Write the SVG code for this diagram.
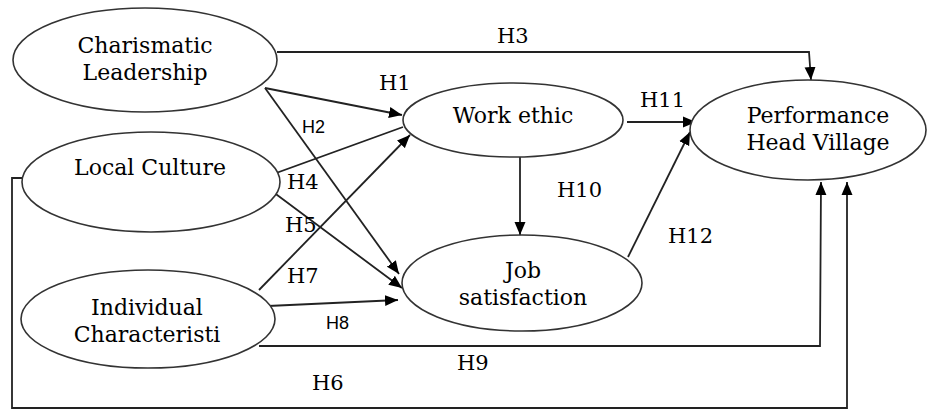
<svg xmlns="http://www.w3.org/2000/svg" width="927" height="410" viewBox="0 0 927 410">
<style>
.node{fill:#fff;stroke:#333;stroke-width:1.6}
.t{font-family:'DejaVu Serif','Liberation Serif',serif;font-size:22px;fill:#000;text-anchor:middle}
.lb{font-family:'DejaVu Serif','Liberation Serif',serif;font-size:21px;fill:#000}
.ls{font-family:'Liberation Sans',Arial,sans-serif;font-size:18px;fill:#000}
.ca{fill:none;stroke:#222;stroke-width:1.8;marker-end:url(#ah)}
</style>
<defs>
<marker id="ah" markerUnits="userSpaceOnUse" markerWidth="14" markerHeight="12" refX="13" refY="6" orient="auto">
<path d="M0,0.5 L13,6 L0,11.5 z" fill="#000"/>
</marker>
</defs>
<rect width="927" height="410" fill="#fff"/>
<g id="connectors">
<polyline class="ca" points="277,52 809,52 811,80"/>
<line class="ca" x1="265" y1="88" x2="402" y2="115"/>
<line class="ca" x1="265" y1="88" x2="399" y2="274"/>
<polyline class="ca" points="403,127 257,180 402,288"/>
<line class="ca" x1="259" y1="290" x2="410" y2="135"/>
<line class="ca" x1="268" y1="306" x2="398" y2="300"/>
<polyline class="ca" points="259,346 820,346 821,182"/>
<polyline class="ca" points="22,178 12,178 12,408 847,408 847,182"/>
<line class="ca" x1="520" y1="157" x2="520" y2="235"/>
<line class="ca" x1="627" y1="122" x2="696" y2="122"/>
<line class="ca" x1="628" y1="257" x2="690" y2="132"/>
</g>
<g id="charismatic">
<ellipse class="node" cx="145" cy="60" rx="132" ry="52"/>
<text class="t" x="145" y="53">Charismatic</text>
<text class="t" x="145" y="80">Leadership</text>
</g>
<g id="local-culture">
<ellipse class="node" cx="151" cy="182" rx="129" ry="50"/>
<text class="t" x="150" y="175">Local Culture</text>
</g>
<g id="individual">
<ellipse class="node" cx="148" cy="319" rx="127" ry="49"/>
<text class="t" x="147" y="315">Individual</text>
<text class="t" x="147" y="342">Characteristi</text>
</g>
<g id="work-ethic">
<ellipse class="node" cx="513" cy="120" rx="110" ry="37"/>
<text class="t" x="513" y="123">Work ethic</text>
</g>
<g id="job-satisfaction">
<ellipse class="node" cx="522" cy="283" rx="120" ry="48"/>
<text class="t" x="523" y="278">Job</text>
<text class="t" x="523" y="305">satisfaction</text>
</g>
<g id="performance">
<ellipse class="node" cx="808" cy="130" rx="118" ry="50"/>
<text class="t" x="818" y="123">Performance</text>
<text class="t" x="818" y="150">Head Village</text>
</g>
<g id="labels">
<text class="lb" x="497" y="43">H3</text>
<text class="lb" x="379" y="90">H1</text>
<text class="ls" x="302" y="133">H2</text>
<text class="lb" x="287" y="189">H4</text>
<text class="lb" x="285" y="232">H5</text>
<text class="lb" x="287" y="283">H7</text>
<text class="ls" x="326" y="329">H8</text>
<text class="lb" x="457" y="370">H9</text>
<text class="lb" x="312" y="390">H6</text>
<text class="lb" x="557" y="197">H10</text>
<text class="lb" x="640" y="107">H11</text>
<text class="lb" x="668" y="243">H12</text>
</g>
</svg>
